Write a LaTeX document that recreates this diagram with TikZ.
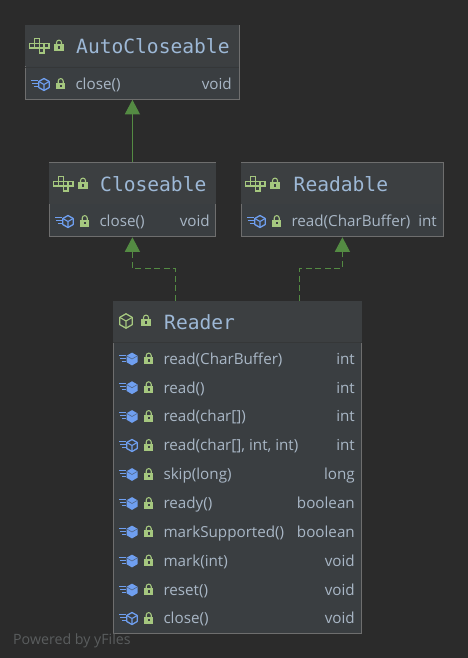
\documentclass[tikz,border=0pt]{standalone}
\usepackage{fontspec}
\setmainfont{Open Sans}
\newfontfamily\titlefont{DejaVu Sans Mono}
\usetikzlibrary{arrows.meta,calc}
\definecolor{bgc}{HTML}{2B2B2B}
\definecolor{headc}{HTML}{3C3F41}
\definecolor{bodyc}{HTML}{3A3E41}
\definecolor{edgec}{HTML}{6E6E6E}
\definecolor{sepc}{HTML}{353738}
\definecolor{titlec}{HTML}{9DB8D6}
\definecolor{textc}{HTML}{A9B7C6}
\definecolor{arrowc}{HTML}{548B43}
\definecolor{lockc}{HTML}{A5C77F}
\definecolor{methodc}{HTML}{6F9FF0}
\definecolor{markc}{HTML}{5A5D5E}
\tikzset{
  umlbox/.style={draw=edgec,fill=bodyc,line width=1pt,inner sep=0pt,rectangle},
  titletext/.style={text=titlec,font=\titlefont\fontsize{19.6}{20}\selectfont,anchor=base west,inner sep=0pt},
  membertext/.style={text=textc,font=\fontsize{15.2}{16}\selectfont,anchor=base west,inner sep=0pt},
  typetext/.style={text=textc,font=\fontsize{15.2}{16}\selectfont,anchor=base east,inner sep=0pt},
  realizes/.style={draw=arrowc,line width=1pt,dash pattern=on 6pt off 3.5pt,-{Triangle[width=15pt,length=14.5pt,fill=arrowc]}},
  extends/.style={draw=arrowc,line width=1pt,-{Triangle[width=15pt,length=14.5pt,fill=arrowc]}},
}
% lock icon centred at (#1,#2)
\newcommand{\lockicon}[2]{%
  \draw[lockc,line width=1.1pt] (#1-2.5,#2-1.5) -- (#1-2.5,#2-3.4) arc[start angle=180,end angle=360,radius=2.5] -- (#1+2.5,#2-1.5);
  \fill[lockc] (#1-4.6,#2-1.6) rectangle (#1+4.6,#2+5);
  \fill[headc] (#1-0.8,#2+0.4) rectangle (#1+0.8,#2+2.8);
}
% hexagon cube, outline
\newcommand{\cubeicon}[4]{% x y radius colour
  \draw[#4,line width=1.3pt,line join=round] (#1,#2-#3) -- (#1+0.87*#3,#2-0.5*#3) -- (#1+0.87*#3,#2+0.5*#3) -- (#1,#2+#3) -- (#1-0.87*#3,#2+0.5*#3) -- (#1-0.87*#3,#2-0.5*#3) -- cycle;
  \draw[#4,line width=1.1pt,line join=round] (#1-0.87*#3,#2-0.5*#3) -- (#1,#2) -- (#1+0.87*#3,#2-0.5*#3) (#1,#2) -- (#1,#2+#3);
}
% interface icon: block of small squares
\newcommand{\ifaceicon}[2]{%
  \begin{scope}[lockc,line width=1.4pt]
    \draw (#1-4.8,#2-7.2) rectangle (#1,#2-2.4);
    \draw (#1-9.6,#2-2.4) rectangle (#1-4.8,#2+2.4);
    \draw (#1-4.8,#2-2.4) rectangle (#1,#2+2.4);
    \draw (#1,#2-2.4) rectangle (#1+4.8,#2+2.4);
    \draw (#1+4.8,#2-2.4) rectangle (#1+9.6,#2+2.4);
    \draw (#1,#2+2.4) rectangle (#1+4.8,#2+7.2);
  \end{scope}
}
% method stripes + cube. #3: 1 solid, 0 outline
\newcommand{\methicon}[3]{%
  \draw[methodc,line width=1pt] (#1-7,#2-4) -- (#1,#2-4) (#1-6,#2-1) -- (#1,#2-1) (#1-4,#2+2) -- (#1,#2+2);
  \ifnum#3=1
    \fill[methodc] (#1+6,#2-6.4) -- (#1+11.5,#2-3.2) -- (#1+11.5,#2+3.2) -- (#1+6,#2+6.4) -- (#1+0.5,#2+3.2) -- (#1+0.5,#2-3.2) -- cycle;
    \draw[headc!60!methodc,line width=0.6pt] (#1+0.5,#2-3.2) -- (#1+6,#2) -- (#1+11.5,#2-3.2);
  \else
    \cubeicon{#1+6}{#2}{6}{methodc}
  \fi
}
% member row: x-icon x-right y name type solid
\newcommand{\memberrow}[6]{%
  \methicon{#1}{#3}{#6}
  \lockicon{#1+22.7}{#3}
  \node[membertext] at (#1+37.3,#3+5.3) {#4};
  \node[typetext] at (#2,#3+5.3) {#5};
}
\begin{document}
\begin{tikzpicture}[x=1pt,y=-1pt]
\useasboundingbox (0,0) rectangle (468,658);
\fill[bgc] (0,0) rectangle (468,658);

% boxes
\node[umlbox,minimum width=214pt,minimum height=74pt] (auto) at (132.4,62.3) {};
\node[umlbox,minimum width=166.5pt,minimum height=74pt] (closeable) at (132.4,199.8) {};
\node[umlbox,minimum width=202pt,minimum height=74pt] (readable) at (342.4,199.8) {};
\node[umlbox,minimum width=248.5pt,minimum height=332pt] (reader) at (237.7,467) {};

% headers
\fill[headc] ($(auto.north west)+(.5,.5)$) rectangle ($(auto.north east)+(-.5,41.5)$);
\draw[sepc] ($(auto.north west)+(.5,42)$) -- ($(auto.north east)+(-.5,42)$);
\fill[headc] ($(closeable.north west)+(.5,.5)$) rectangle ($(closeable.north east)+(-.5,41.5)$);
\fill[headc] ($(readable.north west)+(.5,.5)$) rectangle ($(readable.north east)+(-.5,41.5)$);
\fill[headc] ($(reader.north west)+(.5,.5)$) rectangle ($(reader.north east)+(-.5,41)$);
\draw[sepc] ($(reader.north west)+(.5,41.5)$) -- ($(reader.north east)+(-.5,41.5)$);

% titles
\ifaceicon{39.3}{45.7}
\lockicon{59}{46}
\node[titletext] (t1) at (76,54) {AutoCloseable};
\ifaceicon{63.3}{183.7}
\lockicon{83}{184}
\node[titletext] (t2) at (100,191) {Closeable};
\ifaceicon{255.3}{183.7}
\lockicon{275}{184}
\node[titletext] (t3) at (293.5,191) {Readable};
\cubeicon{126}{321}{7.2}{lockc}
\lockicon{146}{321}
\node[titletext] (t4) at (164,329) {Reader};

% members
\memberrow{38}{232}{84.5}{close()}{void}{0}
\memberrow{62}{210}{221.5}{close()}{void}{0}
\memberrow{254}{437}{221.5}{read(CharBuffer)}{int}{0}
\memberrow{126}{355}{359}{read(CharBuffer)}{int}{1}
\memberrow{126}{355}{387.7}{read()}{int}{1}
\memberrow{126}{355}{416.5}{read(char[])}{int}{1}
\memberrow{126}{355}{445.5}{read(char[], int, int)}{int}{0}
\memberrow{126}{355}{474.5}{skip(long)}{long}{1}
\memberrow{126}{355}{503.5}{ready()}{boolean}{1}
\memberrow{126}{355}{532}{markSupported()}{boolean}{1}
\memberrow{126}{355}{561}{mark(int)}{void}{1}
\memberrow{126}{355}{590}{reset()}{void}{1}
\memberrow{126}{355}{618.5}{close()}{void}{0}

% connectors
\draw[extends] (closeable.north) -- (auto.south);
\coordinate (r1) at ($(reader.north west)+(62.5,0)$);
\coordinate (r2) at ($(reader.north west)+(187,0)$);
\coordinate (bend1) at ($(closeable.south)+(0,31)$);
\coordinate (bend2) at ($(readable.south)+(0,31)$);
\draw[realizes] (r1) |- (bend1) -- (closeable.south);
\draw[realizes] (r2) |- (bend2) -- (readable.south);

\node[anchor=base west,inner sep=0pt,text=markc,font=\fontsize{14.2}{16}\selectfont] (mark) at (13,644) {Powered by yFiles};
\end{tikzpicture}
\end{document}
